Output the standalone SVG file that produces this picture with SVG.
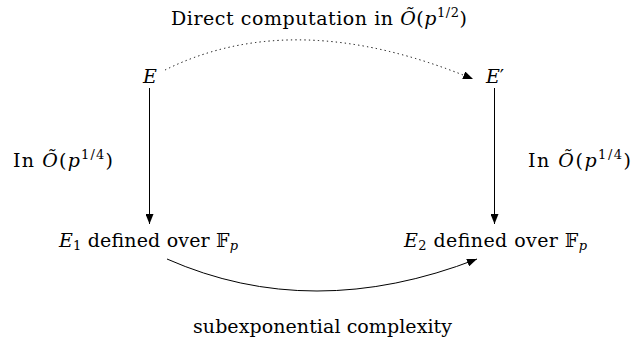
<svg xmlns="http://www.w3.org/2000/svg" width="644" height="343" viewBox="0 0 644 343">
<style>
text{font-family:"DejaVu Serif","Liberation Serif",serif;font-size:19px;fill:#000;text-anchor:middle}
.m{font-style:italic}
.sup{font-size:13px}
.sub{font-size:13px}
.c{fill:none;stroke:#000;stroke-width:1}
</style>
<defs>
<marker id="ah" viewBox="0 0 10 8" refX="10" refY="4" markerWidth="10" markerHeight="8" markerUnits="userSpaceOnUse" orient="auto">
<path d="M0,0 L10,4 L0,8 Z" fill="#000"/>
</marker>
</defs>
<g id="connectors">
<path class="c" d="M165,70 Q295,5.5 473,79" stroke-dasharray="1.3,3.2" marker-end="url(#ah)"/>
<line class="c" x1="149.5" y1="88" x2="149.5" y2="224" marker-end="url(#ah)"/>
<line class="c" x1="494.5" y1="88" x2="494.5" y2="224" marker-end="url(#ah)"/>
<path class="c" d="M167,259 Q312,323 477,259" marker-end="url(#ah)"/>
</g>
<g id="E"><text x="150" y="83" class="m">E</text></g>
<g id="Eprime"><text x="495" y="83"><tspan class="m">E</tspan>′</text></g>
<g id="E1"><text x="148.5" y="247" textLength="179"><tspan class="m">E</tspan><tspan class="sub" dy="3">1</tspan><tspan dy="-3"> defined over 𝔽</tspan><tspan class="sub m" dy="3">p</tspan></text></g>
<g id="E2"><text x="495.5" y="247" textLength="183"><tspan class="m">E</tspan><tspan class="sub" dy="3">2</tspan><tspan dy="-3"> defined over 𝔽</tspan><tspan class="sub m" dy="3">p</tspan></text></g>
<g id="label-top"><text x="319" y="25" textLength="296">Direct computation in <tspan class="m">Õ</tspan>(<tspan class="m">p</tspan><tspan class="sup" dy="-8">1/2</tspan><tspan dy="8">)</tspan></text></g>
<g id="label-left"><text x="63" y="167" textLength="100">In <tspan class="m">Õ</tspan>(<tspan class="m">p</tspan><tspan class="sup" dy="-8">1/4</tspan><tspan dy="8">)</tspan></text></g>
<g id="label-right"><text x="579.5" y="167" textLength="103">In <tspan class="m">Õ</tspan>(<tspan class="m">p</tspan><tspan class="sup" dy="-8">1/4</tspan><tspan dy="8">)</tspan></text></g>
<g id="label-bottom"><text x="322.5" y="333" textLength="259">subexponential complexity</text></g>
</svg>
